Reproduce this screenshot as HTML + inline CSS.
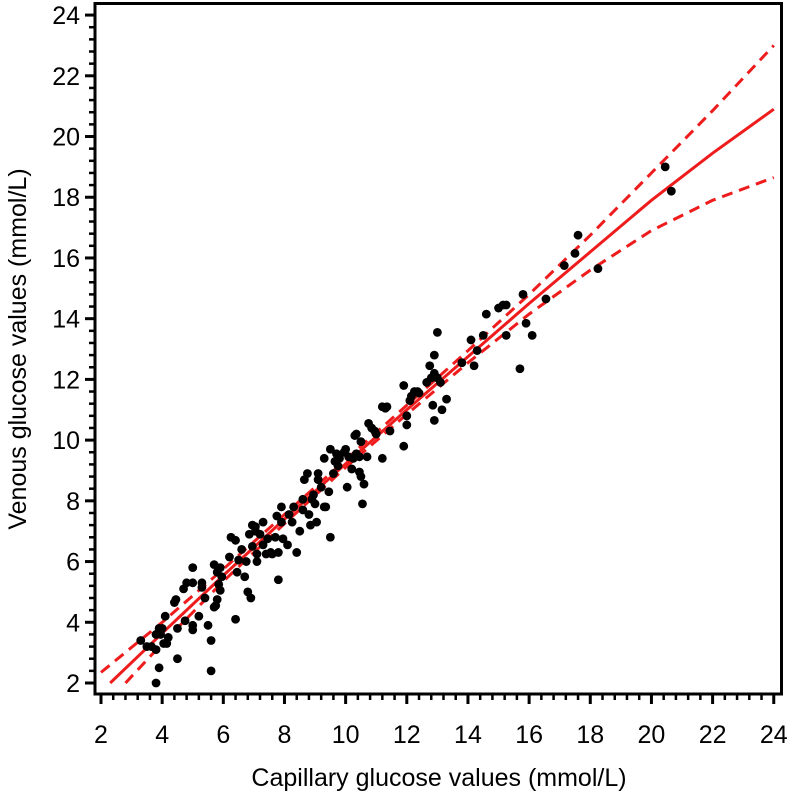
<!DOCTYPE html>
<html><head><meta charset="utf-8"><style>
html,body{margin:0;padding:0;background:#fff;}
svg{display:block;font-family:"Liberation Sans",Arial,sans-serif;}
</style></head><body>
<svg id="chart" width="792" height="795" viewBox="0 0 792 795">
<g id="axes"></g><g id="curves"></g><g id="points"></g>
<text x="18" y="349" transform="rotate(-90 18 349)" text-anchor="middle" dominant-baseline="central" font-size="25" fill="#000">Venous glucose values (mmol/L)</text>
<text x="439" y="786" text-anchor="middle" font-size="25" fill="#000">Capillary glucose values (mmol/L)</text>
</svg>
<script>
const xTicks=[2,4,6,8,10,12,14,16,18,20,22,24];
const yTicks=[2,4,6,8,10,12,14,16,18,20,22,24];
const capillary=[3.3,3.5,3.65,3.8,3.8,3.9,3.95,4.0,4.05,4.15,4.2,3.8,3.9,4.5,4.5,4.4,4.45,4.1,4.7,4.8,5.0,5.0,5.0,5.0,4.75,5.2,5.3,5.3,5.4,5.5,5.6,5.6,5.7,5.8,5.75,5.8,5.85,5.9,5.9,5.95,5.7,6.2,6.25,6.4,6.4,6.45,6.5,6.6,6.7,6.75,6.8,6.9,6.85,6.95,7.05,7.1,7.1,6.95,7.05,7.2,7.3,7.3,7.4,7.45,7.55,7.6,7.7,7.8,7.8,7.75,7.9,7.9,7.95,8.1,8.15,8.25,8.3,8.4,8.5,8.6,8.6,8.65,8.75,8.8,8.85,8.9,8.95,9.05,9.1,9.1,9.0,9.2,9.3,9.3,9.35,9.45,9.5,9.5,9.6,9.65,9.7,9.75,9.8,9.95,10.0,10.05,10.1,10.2,10.25,10.3,10.35,10.35,10.45,10.45,10.5,10.5,10.6,10.55,10.7,10.75,10.85,10.95,11.0,11.2,11.2,11.3,11.35,11.45,11.9,11.9,12.0,12.0,12.1,12.15,12.25,12.35,12.4,12.65,12.75,12.8,12.85,12.9,12.9,12.9,13.0,13.0,13.1,13.15,13.3,13.8,14.1,14.2,14.3,14.5,14.6,15.0,15.15,15.25,15.25,15.7,15.8,15.9,16.1,16.55,17.15,17.5,17.6,18.25,20.45,20.65];
const venous=[3.4,3.2,3.2,3.6,3.1,3.8,3.6,3.8,3.3,3.3,3.5,2.0,2.5,2.8,3.8,4.65,4.75,4.2,5.1,5.3,5.3,5.8,3.9,3.75,4.05,4.2,5.3,5.15,4.8,3.9,3.4,2.4,5.9,5.65,4.55,4.75,5.25,5.8,5.05,5.5,4.5,6.15,6.8,6.7,4.1,5.65,6.05,6.4,5.5,6.0,5.0,4.8,6.9,6.5,7.0,6.0,6.25,7.2,7.15,6.9,7.3,6.55,6.25,6.75,6.3,6.25,6.8,5.4,6.3,7.5,7.3,7.8,6.75,6.55,7.55,7.3,7.8,6.3,7.0,7.7,8.05,8.7,8.9,7.55,7.2,8.05,8.2,7.3,8.7,8.9,7.9,8.45,7.8,9.4,7.8,8.3,6.8,9.7,8.9,9.3,9.55,9.15,9.4,9.6,9.7,8.45,9.45,9.05,9.4,10.15,9.55,10.2,8.95,9.45,9.95,8.8,8.55,7.9,9.45,10.55,10.4,10.3,10.2,9.4,11.1,11.05,11.1,10.3,11.8,9.8,10.8,10.5,11.3,11.45,11.6,11.6,11.55,11.9,12.45,12.05,11.15,12.2,12.8,10.65,12.05,13.55,11.9,11.0,11.35,12.55,13.3,12.45,12.95,13.45,14.15,14.35,14.45,14.45,13.45,12.35,14.8,13.85,13.45,14.65,15.75,16.15,16.75,15.65,19.0,18.2];
const fitX=[2.3,4,6,8,10,12,14,16,18,20,22,24];
const fitY=[2.0,3.64,5.54,7.40,9.22,11.0,12.75,14.5,16.2,17.9,19.45,20.9];
const upperX=[2,4,6,8,10,12,14,16,18,20,22,24];
const upperY=[2.35,4.0,5.75,7.55,9.35,11.15,12.95,14.8,16.75,18.8,20.85,23.0];
const lowerX=[2.8,4,6,8,10,12,14,16,18,20,22,24];
const lowerY=[2.0,3.3,5.35,7.25,9.1,10.85,12.55,14.15,15.6,16.9,17.9,18.65];

const NS="http://www.w3.org/2000/svg";
const X=v=>101+(v-2)*30.58;
const Y=v=>683-(v-2)*30.36;
function mk(tag,attrs,parent){const e=document.createElementNS(NS,tag);for(const k in attrs)e.setAttribute(k,attrs[k]);parent.appendChild(e);return e;}
const axes=document.getElementById('axes');
const frame=mk('rect',{x:95,y:3.5,width:686.5,height:690.5,fill:'none',stroke:'#000','stroke-width':3},axes);


for(let v=2;v<=24.001;v+=0.4){
  const major=Math.abs(v/2-Math.round(v/2))<0.01;
  const len=major?10:6;
  const tx=mk('line',{x1:X(v),x2:X(v),y1:694,y2:694+len,stroke:'#000','stroke-width':major?3:2.5},axes);
  
  
  const ty=mk('line',{x1:95,x2:95-len,y1:Y(v),y2:Y(v),stroke:'#000','stroke-width':major?3:2.5},axes);
  
  
}
xTicks.forEach(v=>{const t=mk('text',{x:X(v),y:743,'text-anchor':'middle','font-size':25,fill:'#000'},axes);t.textContent=v;
  
  });
yTicks.forEach(v=>{const t=mk('text',{x:80,y:Y(v)+9,'text-anchor':'end','font-size':25,fill:'#000'},axes);t.textContent=v;
  
  });
const curves=document.getElementById('curves');
function path(xs,ys){let d='';xs.forEach((x,i)=>{d+=(i?'L':'M')+X(x).toFixed(1)+','+Y(ys[i]).toFixed(1);});return d;}
const up=mk('path',{d:path(upperX,upperY),fill:'none',stroke:'#ee1c1c','stroke-width':3,'stroke-dasharray':'11 7'},curves);


const lo=mk('path',{d:path(lowerX,lowerY),fill:'none',stroke:'#ee1c1c','stroke-width':3,'stroke-dasharray':'11 7'},curves);


const pts=document.getElementById('points');
capillary.forEach((c,i)=>{const p=mk('circle',{cx:X(c),cy:Y(venous[i]),r:4.4,fill:'#000'},pts);
  
  });
const fit=mk('path',{d:path(fitX,fitY),fill:'none',stroke:'#ee1c1c','stroke-width':3},curves);


</script>
</body></html>
